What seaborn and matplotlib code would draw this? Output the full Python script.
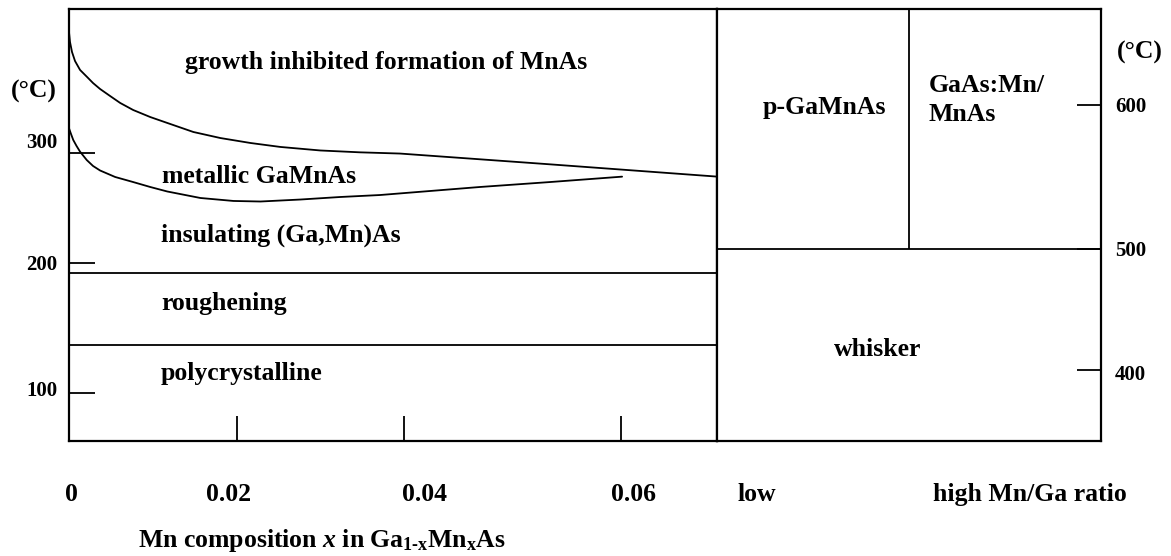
import numpy as np
import pandas as pd
import matplotlib
matplotlib.use("Agg")
import matplotlib.pyplot as plt
from matplotlib.transforms import ScaledTranslation
import seaborn as sns

# ---- phase boundaries of (Ga,Mn)As growth -------------------------------
# left panel: Mn composition x vs. substrate temperature (degC)
upper_x = [0, 0.00012, 0.00036, 0.00072, 0.00132, 0.00216, 0.00287, 0.00371,
           0.00491, 0.00611, 0.00766, 0.0097, 0.01174, 0.01485, 0.01808,
           0.02167, 0.02524, 0.03, 0.03476, 0.03952, 0.05318, 0.0689]
upper_t = [410.0, 400.9, 391.8, 383.6, 375.5, 369.1, 363.6, 358.2,
           351.8, 345.5, 339.1, 332.7, 327.3, 319.1, 313.6,
           309.1, 305.5, 302.3, 300.6, 299.5, 289.9, 278.5]
lower_x = [0, 0.00024, 0.00051, 0.0009, 0.00132, 0.00212, 0.00287, 0.00371,
           0.00551, 0.00766, 0.0097, 0.01174, 0.01569, 0.01964, 0.02286,
           0.02762, 0.03238, 0.03714, 0.047, 0.05346, 0.0601]
lower_t = [322.5, 317.3, 311.8, 306.4, 301.2, 293.6, 288.2, 284.1,
           278.2, 273.6, 269.1, 265.0, 259.1, 256.4, 255.9,
           257.7, 260.0, 261.8, 269.1, 273.6, 278.5]
flat_boundaries = [192.5, 137.0]          # roughening / polycrystalline limits

# right panel: high-temperature regime vs. Mn/Ga flux ratio
right_boundary_t = 500.0
right_divider_ratio = 0.5

# axis tick values and their (hand-drawn, non-uniform) positions
left_t_ticks = [100, 200, 300]
left_t_pos = [48, 178, 288]
comp_ticks = [0, 0.02, 0.04, 0.06]
comp_labels = ["0", "0.02", "0.04", "0.06"]
comp_pos = [0, 167.5, 335, 552]
right_t_ticks = [400, 500, 600]
right_t_pos = [71, 192, 336]
ratio_ticks = [0.104, 0.815]
ratio_labels = ["low", "high Mn/Ga ratio"]


def piecewise(vals, pos):
    vals = np.asarray(vals, float)
    pos = np.asarray(pos, float)

    def fwd(v):
        v = np.asarray(v, float)
        out = np.interp(v, vals, pos)
        s0 = (pos[1] - pos[0]) / (vals[1] - vals[0])
        s1 = (pos[-1] - pos[-2]) / (vals[-1] - vals[-2])
        out = np.where(v < vals[0], pos[0] + (v - vals[0]) * s0, out)
        out = np.where(v > vals[-1], pos[-1] + (v - vals[-1]) * s1, out)
        return out

    def inv(p):
        p = np.asarray(p, float)
        out = np.interp(p, pos, vals)
        s0 = (vals[1] - vals[0]) / (pos[1] - pos[0])
        s1 = (vals[-1] - vals[-2]) / (pos[-1] - pos[-2])
        out = np.where(p < pos[0], vals[0] + (p - pos[0]) * s0, out)
        out = np.where(p > pos[-1], vals[-1] + (p - pos[-1]) * s1, out)
        return out

    return fwd, inv


sns.set_theme(style="white")
plt.rcParams["font.family"] = ["Liberation Serif", "DejaVu Serif"]
plt.rcParams["font.weight"] = "bold"
plt.rcParams["mathtext.fontset"] = "custom"
plt.rcParams["mathtext.rm"] = "Liberation Serif:bold"
plt.rcParams["mathtext.it"] = "Liberation Serif:bold:italic"
plt.rcParams["mathtext.bf"] = "Liberation Serif:bold"

W, H = 1171, 556
fig = plt.figure(figsize=(W / 100, H / 100), dpi=100)
fig.patch.set_facecolor("white")

x0, x1, x2 = 69, 717, 1101
ytop, ybot = 9, 441
ax1 = fig.add_axes([x0 / W, (H - ybot) / H, (x1 - x0) / W, (ybot - ytop) / H])
ax2 = fig.add_axes([x1 / W, (H - ybot) / H, (x2 - x1) / W, (ybot - ytop) / H])

lw_frame = 1.6
lw_line = 1.3
ink = "black"

# ---- left panel ----------------------------------------------------------
fx, ix = piecewise(comp_ticks, comp_pos)
fy, iy = piecewise(left_t_ticks, left_t_pos)
ax1.set_xscale("function", functions=(fx, ix))
ax1.set_yscale("function", functions=(fy, iy))

curves = pd.concat([
    pd.DataFrame({"x": upper_x, "T": upper_t, "edge": "upper"}),
    pd.DataFrame({"x": lower_x, "T": lower_t, "edge": "lower"}),
])
for name, grp in curves.groupby("edge"):
    sns.lineplot(data=grp, x="x", y="T", ax=ax1, color=ink, lw=lw_line,
                 estimator=None, sort=False, legend=False)
for t in flat_boundaries:
    ax1.axhline(t, color=ink, lw=lw_line)

ax1.set_xlim(0, float(ix(648)))
ax1.set_ylim(float(iy(0)), float(iy(432)))

ax1.set_xticks(comp_ticks)
ax1.set_xticklabels(comp_labels, fontsize=18.5, fontweight="bold")
ax1.set_yticks(left_t_ticks)
ax1.set_yticklabels([str(t) for t in left_t_ticks], fontsize=15, fontweight="bold")
ax1.tick_params(axis="x", bottom=True, top=False, direction="in", length=18,
                width=1.3, pad=30, colors=ink)
ax1.tick_params(axis="y", left=True, right=False, direction="in", length=19,
                width=1.3, pad=8.5, colors=ink)
ax1.set_xlabel("")
ax1.set_ylabel("")

# individual label nudges (pixels)
x_nudge = [2, -8, 20, 12]
for lab, dx in zip(ax1.get_xticklabels(), x_nudge):
    lab.set_transform(lab.get_transform() + ScaledTranslation(dx / 100, 0, fig.dpi_scale_trans))
y_nudge = [5, 0, 12]
for lab, dy in zip(ax1.get_yticklabels(), y_nudge):
    lab.set_transform(lab.get_transform() + ScaledTranslation(0, dy / 100, fig.dpi_scale_trans))

txt = dict(fontsize=18.5, fontweight="bold", color=ink, va="center")
ax1.text(0.179, 0.877, "growth inhibited formation of MnAs", transform=ax1.transAxes, ha="left", **txt)
ax1.text(0.1435, 0.613, "metallic GaMnAs", transform=ax1.transAxes, ha="left", **txt)
ax1.text(0.142, 0.477, "insulating (Ga,Mn)As", transform=ax1.transAxes, ha="left", **txt)
ax1.text(0.142, 0.319, "roughening", transform=ax1.transAxes, ha="left", **txt)
ax1.text(0.142, 0.157, "polycrystalline", transform=ax1.transAxes, ha="left", **txt)
ax1.text(-0.0185, 0.808, "(°C)", transform=ax1.transAxes, ha="right", **txt)

# ---- right panel ---------------------------------------------------------
gy, jy = piecewise(right_t_ticks, right_t_pos)
ax2.set_yscale("function", functions=(gy, jy))
ax2.set_xlim(0, 1)
ax2.set_ylim(float(jy(0)), float(jy(432)))
ax2.axhline(right_boundary_t, color=ink, lw=lw_line)
ax2.vlines(right_divider_ratio, right_boundary_t, float(jy(432)), color=ink, lw=lw_line)

ax2.set_xticks(ratio_ticks)
ax2.set_xticklabels(ratio_labels, fontsize=18.5, fontweight="bold")
ax2.tick_params(axis="x", bottom=True, length=0, pad=30, colors=ink)
ax2.yaxis.tick_right()
ax2.set_yticks(right_t_ticks)
ax2.set_yticklabels([str(t) for t in right_t_ticks], fontsize=15, fontweight="bold")
ax2.tick_params(axis="y", which="both", left=False, right=True, direction="in",
                length=17, width=1.3, pad=10, colors=ink)
for lab, dy in zip(ax2.get_yticklabels(), [-3, 0, 0]):
    lab.set_transform(lab.get_transform() + ScaledTranslation(0, dy / 100, fig.dpi_scale_trans))
ax2.set_xlabel("")
ax2.set_ylabel("")

ax2.text(0.279, 0.771, "p-GaMnAs", transform=ax2.transAxes, ha="center", **txt)
ax2.text(0.552, 0.789, "GaAs:Mn/\nMnAs", transform=ax2.transAxes, ha="left",
         linespacing=1.35, **txt)
ax2.text(0.419, 0.211, "whisker", transform=ax2.transAxes, ha="center", **txt)
ax2.text(1.042, 0.900, "(°C)", transform=ax2.transAxes, ha="left", **txt)

for ax in (ax1, ax2):
    ax.set_facecolor("white")
    ax.grid(False)
    for sp in ax.spines.values():
        sp.set_visible(True)
        sp.set_color(ink)
        sp.set_linewidth(lw_frame)

fig.text(138 / W, 1 - 540 / H,
         r"Mn composition $x$ in Ga$_{\mathrm{1\text{-}x}}$Mn$_{\mathrm{x}}$As",
         fontsize=18.5, fontweight="bold", color=ink, ha="left", va="center")

fig.savefig("out.png", dpi=100, facecolor="white")
